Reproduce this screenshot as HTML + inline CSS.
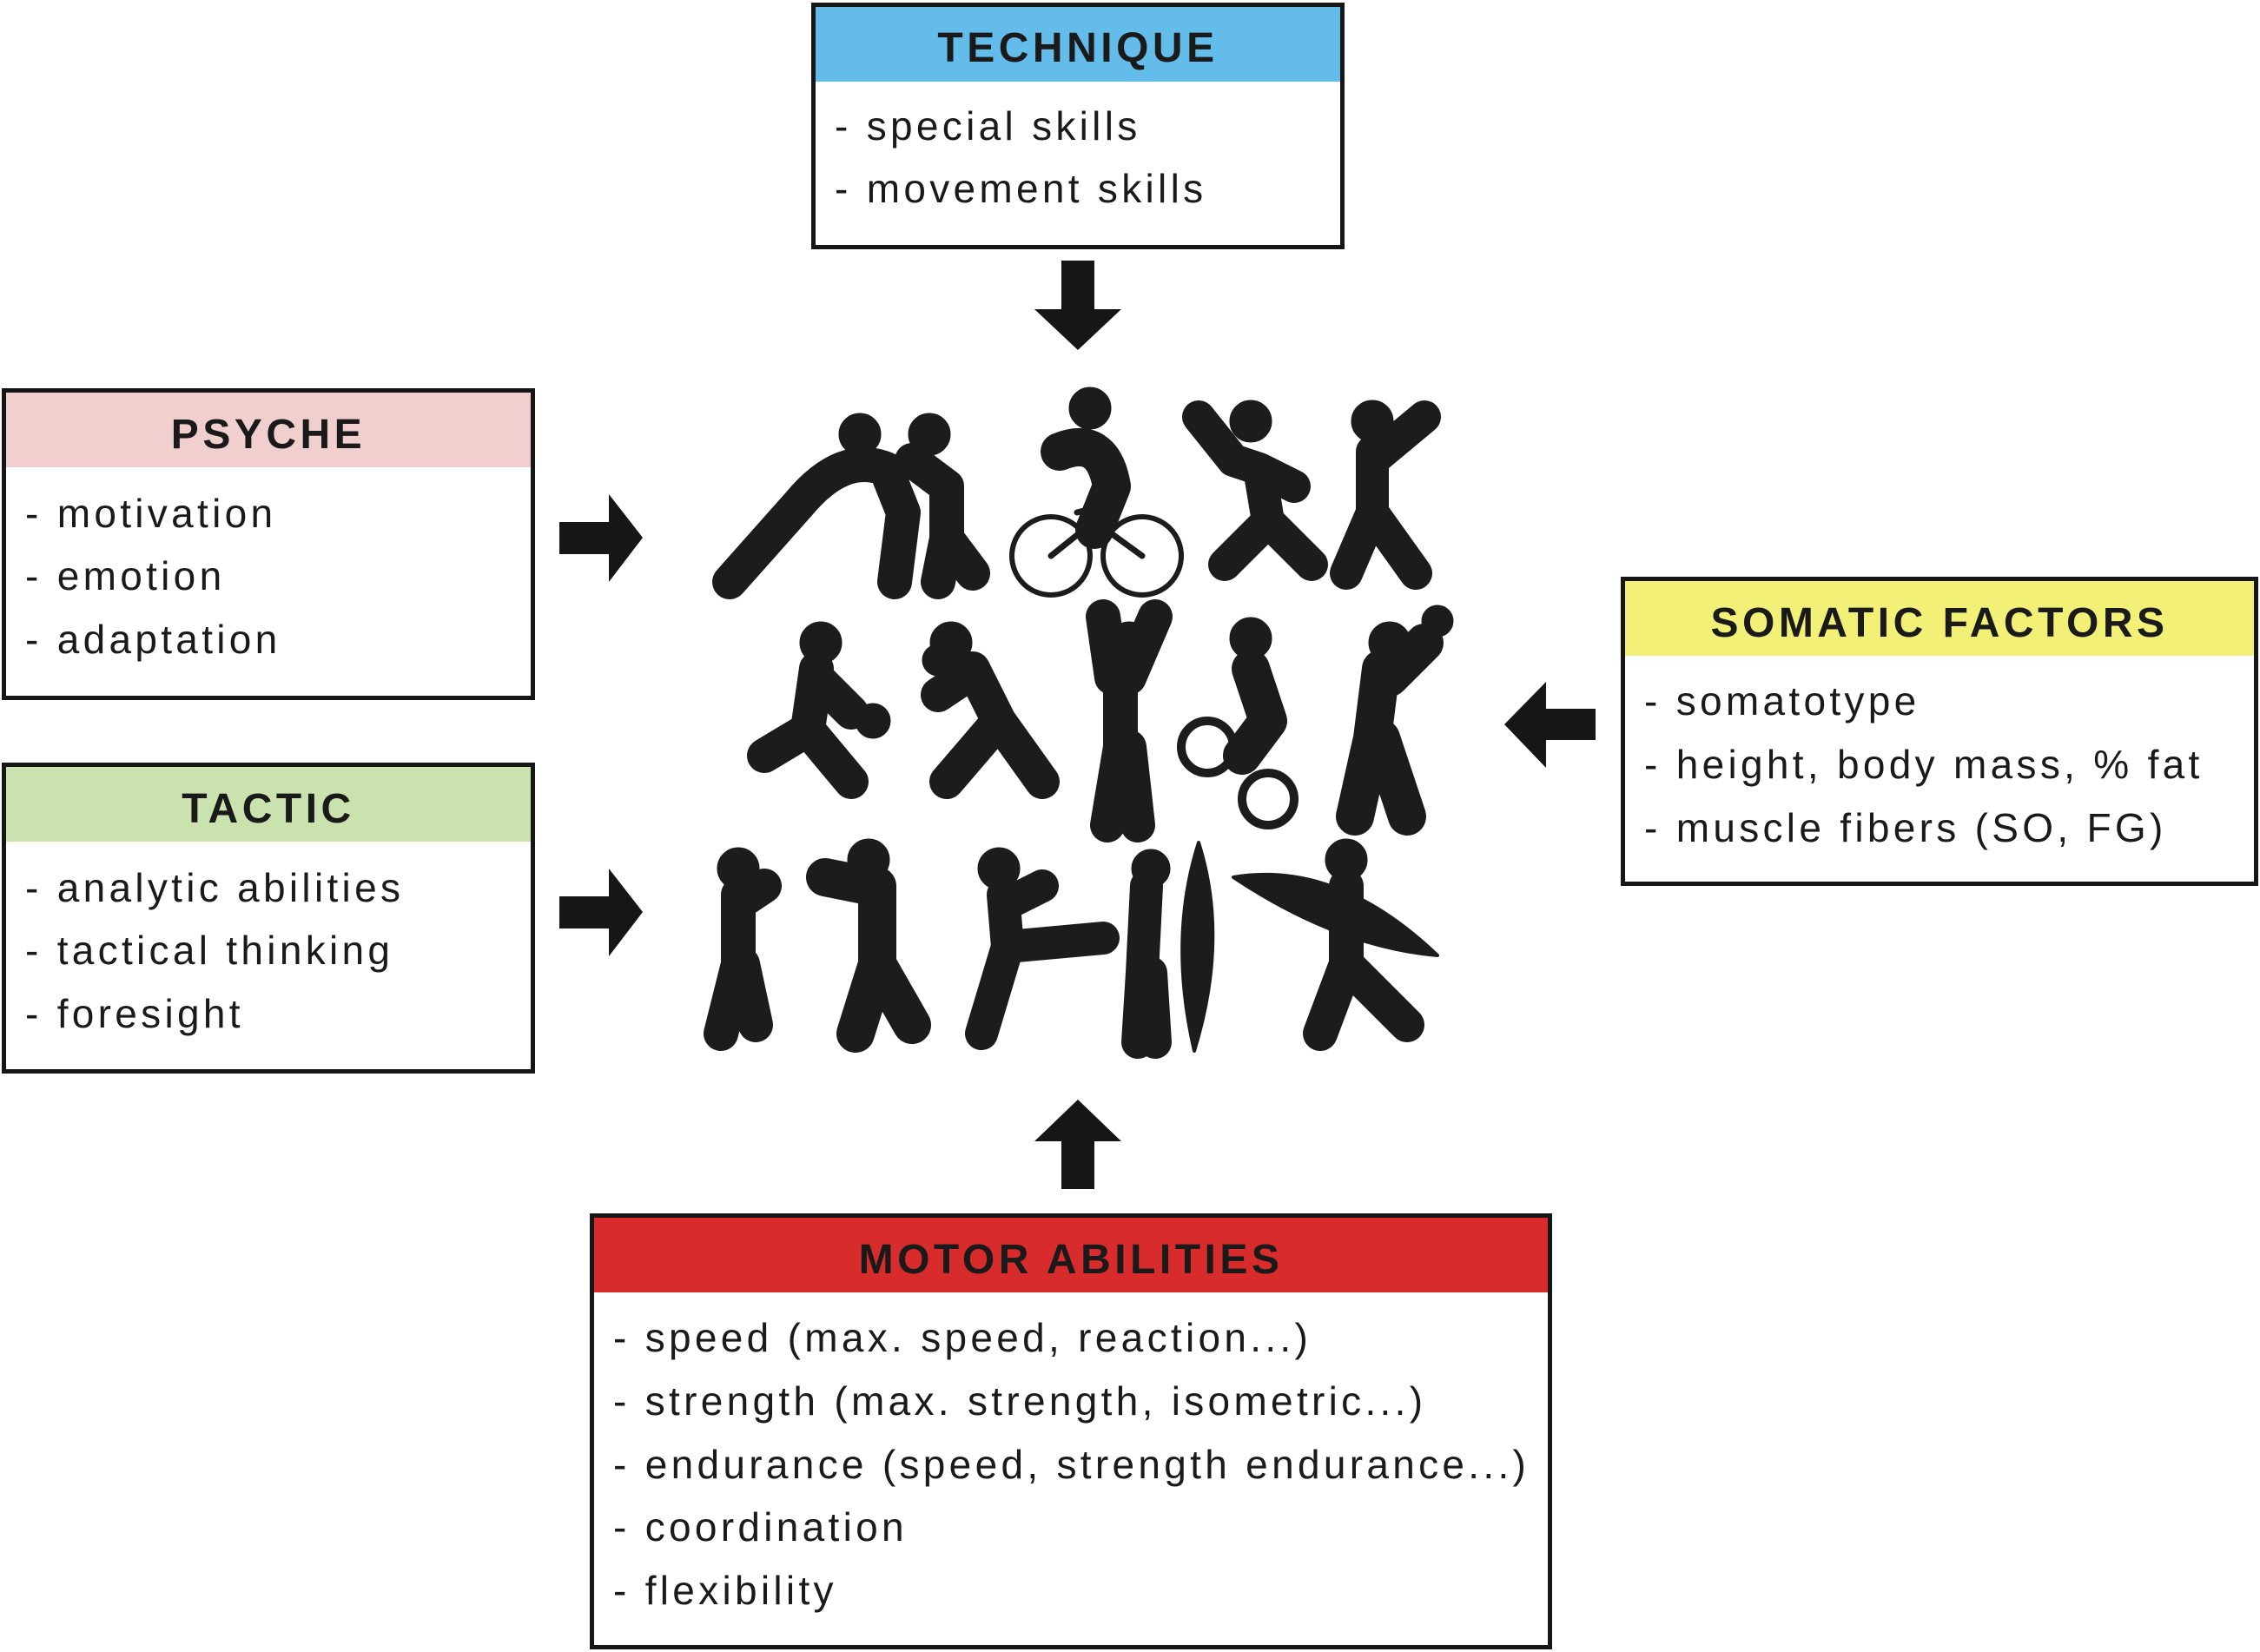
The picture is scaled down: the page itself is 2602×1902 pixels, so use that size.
<!DOCTYPE html>
<html><head><meta charset="utf-8"><style>
body{margin:0;width:2602px;height:1902px;background:#fff;position:relative;overflow:hidden;font-family:"Liberation Sans",sans-serif;color:#1a1a1a}
.box{position:absolute;border:5px solid #161616;box-sizing:border-box;background:#fff}
.hd{position:absolute;left:0;right:0;top:0;text-align:center;font-weight:bold;font-size:48px;letter-spacing:4.5px;box-sizing:border-box}
.ln{position:absolute;left:22px;font-size:46px;letter-spacing:4.3px;white-space:nowrap;line-height:56px}
svg{position:absolute;left:0;top:0}
</style></head><body>

<div class="box" style="left:934px;top:3px;width:614px;height:284px">
<div class="hd" style="height:86px;background:#63BCE9;line-height:96px">TECHNIQUE</div>
<div class="ln" style="top:109px">- special skills</div>
<div class="ln" style="top:181px">- movement skills</div>
</div>

<div class="box" style="left:2px;top:447px;width:614px;height:359px">
<div class="hd" style="height:86px;background:#F2CFCF;line-height:98px">PSYCHE</div>
<div class="ln" style="top:111px">- motivation</div>
<div class="ln" style="top:183px">- emotion</div>
<div class="ln" style="top:256px">- adaptation</div>
</div>

<div class="box" style="left:2px;top:878px;width:614px;height:358px">
<div class="hd" style="height:86px;background:#C9E2AE;line-height:98px">TACTIC</div>
<div class="ln" style="top:111px">- analytic abilities</div>
<div class="ln" style="top:183px">- tactical thinking</div>
<div class="ln" style="top:256px">- foresight</div>
</div>

<div class="box" style="left:1866px;top:664px;width:734px;height:356px">
<div class="hd" style="height:86px;background:#F2F077;line-height:98px">SOMATIC FACTORS</div>
<div class="ln" style="top:110px">- somatotype</div>
<div class="ln" style="top:183px">- height, body mass, % fat</div>
<div class="ln" style="top:256px">- muscle fibers (SO, FG)</div>
</div>

<div class="box" style="left:679px;top:1397px;width:1108px;height:502px">
<div class="hd" style="height:86px;background:#D82B2B;line-height:98px">MOTOR ABILITIES</div>
<div class="ln" style="top:110px">- speed (max. speed, reaction...)</div>
<div class="ln" style="top:183px">- strength (max. strength, isometric...)</div>
<div class="ln" style="top:256px">- endurance (speed, strength endurance...)</div>
<div class="ln" style="top:328px">- coordination</div>
<div class="ln" style="top:401px">- flexibility</div>
</div>

<svg width="2602" height="1902" viewBox="0 0 2602 1902">
<g fill="#161616">
<polygon points="1222,300 1260,300 1260,356 1291,356 1241,403 1191,356 1222,356"/>
<polygon points="1222,1369 1260,1369 1260,1314 1291,1314 1241,1266 1191,1314 1222,1314"/>
<polygon points="644,601 701,601 701,569 740,619 701,670 701,638 644,638"/>
<polygon points="644,1032 701,1032 701,1000 740,1050 701,1101 701,1069 644,1069"/>
<polygon points="1837,816 1780,816 1780,785 1732,834 1780,884 1780,852 1837,852"/>
</g>
<g fill="#1c1c1c" stroke="#1c1c1c" stroke-linecap="round" stroke-linejoin="round">
<!-- row 1 -->
<g transform="translate(880,520)"><circle cx="110" cy="-20" r="24"/><path d="M-40,150 L40,60 Q90,0 140,20 L160,70 L150,150" stroke-width="40" fill="none"/></g>
<g transform="translate(1050,520)"><circle cx="20" cy="-20" r="24"/><path d="M0,10 L40,40 L40,100 L30,150 M40,100 L70,140" stroke-width="40" fill="none"/></g>
<g transform="translate(1220,500)"><circle cx="35" cy="-30" r="24"/><path d="M0,20 Q50,0 60,60 L40,110" stroke-width="44" fill="none"/><circle cx="-10" cy="140" r="45" fill="none" stroke-width="6"/><circle cx="95" cy="140" r="45" fill="none" stroke-width="6"/><path d="M-10,140 L40,100 L95,140 M20,90 L60,80" stroke-width="7" fill="none"/></g>
<g transform="translate(1410,500)"><circle cx="30" cy="-15" r="24"/><path d="M-30,-20 L10,30 L40,40 L50,100 L0,150 M50,100 L100,150 M40,40 L80,60" stroke-width="38" fill="none"/></g>
<g transform="translate(1580,500)"><circle cx="0" cy="-15" r="24"/><path d="M0,20 L0,90 L-30,160 M0,90 L50,160 M0,30 L60,-20" stroke-width="38" fill="none"/></g>
<!-- row 2 -->
<g transform="translate(900,760)"><circle cx="45" cy="-20" r="24"/><path d="M40,10 L30,80 L-20,110 M30,80 L80,140 M40,20 L80,60" stroke-width="40" fill="none"/><circle cx="105" cy="70" r="20"/></g>
<g transform="translate(1080,760)"><circle cx="15" cy="-20" r="24"/><path d="M40,10 L70,70 L10,140 M70,70 L120,140 M30,20 L0,40" stroke-width="40" fill="none"/><circle cx="0" cy="0" r="18"/></g>
<g transform="translate(1290,740)"><circle cx="10" cy="0" r="24"/><path d="M-20,-30 L-10,40 L10,40 L40,-30 M0,40 L0,120 L-15,210 M10,120 L20,210" stroke-width="40" fill="none"/></g>
<g transform="translate(1400,740)"><circle cx="40" cy="-5" r="24"/><path d="M40,30 L60,90 L30,130" stroke-width="44" fill="none"/><circle cx="-10" cy="120" r="30" fill="none" stroke-width="10"/><circle cx="60" cy="180" r="30" fill="none" stroke-width="10"/></g>
<g transform="translate(1560,740)"><circle cx="40" cy="0" r="24"/><path d="M30,30 L20,110 L0,200 M30,110 L60,200 M40,40 L80,0" stroke-width="44" fill="none"/><circle cx="95" cy="-25" r="18"/></g>
<!-- row 3 -->
<g transform="translate(830,1000)"><circle cx="20" cy="0" r="24"/><path d="M20,30 L20,110 L0,190 M25,110 L40,180 M20,40 L50,20" stroke-width="40" fill="none"/></g>
<g transform="translate(980,1000)"><circle cx="20" cy="-10" r="24"/><path d="M30,20 L30,110 L5,190 M30,110 L70,180 M20,20 L-30,10" stroke-width="44" fill="none"/></g>
<g transform="translate(1140,1010)"><circle cx="10" cy="-10" r="24"/><path d="M15,20 L20,80 L-10,180 M20,80 L130,70 M20,30 L60,10" stroke-width="38" fill="none"/></g>
<g transform="translate(1320,1000)"><circle cx="5" cy="0" r="22"/><path d="M0,20 L-5,120 L-10,200 M5,120 L10,200" stroke-width="38" fill="none"/><path d="M60,-30 Q95,80 55,210 Q25,80 60,-30Z" stroke-width="4"/></g>
<g transform="translate(1480,1010)"><path d="M-60,0 Q60,-20 175,90 Q60,80 -60,0Z" stroke-width="4"/><circle cx="70" cy="-20" r="24"/><path d="M70,10 L70,100 L40,180 M70,100 L140,170" stroke-width="40" fill="none"/></g>
</g>
</svg>
</body></html>
